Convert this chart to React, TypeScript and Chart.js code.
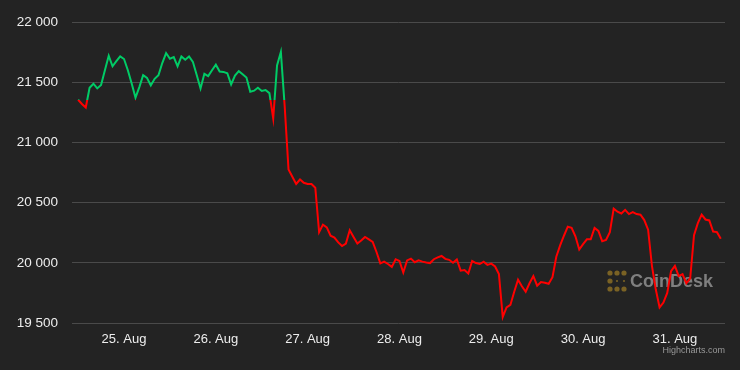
import React, { useEffect, useRef } from "react";
import { Chart, registerables } from "chart.js";

Chart.register(...registerables);

// Hourly BTC price, starting 24 Aug 12:00 (hour -12 relative to 25 Aug 00:00)
const startHour = -12;
const prices: number[] = [
  21355, 21320, 21290, 21455, 21488, 21449, 21477, 21600, 21720, 21633,
  21675, 21715, 21693, 21600, 21490, 21372, 21460, 21559, 21537, 21474,
  21529, 21559, 21660, 21743, 21696, 21710, 21633, 21715, 21688, 21715,
  21670, 21560, 21449, 21570, 21551, 21600, 21646, 21590, 21586, 21575,
  21482, 21556, 21592, 21567, 21540, 21422, 21430, 21455, 21428, 21436,
  21410, 21200, 21640, 21751, 21300, 20775, 20715, 20655, 20692, 20665,
  20655, 20655, 20624, 20254, 20317, 20295, 20225, 20210, 20170, 20139,
  20160, 20270, 20215, 20160, 20185, 20215, 20195, 20174, 20090, 19995,
  20010, 19990, 19966, 20030, 20015, 19920, 20020, 20035, 20005, 20020,
  20010, 20003, 19998, 20030, 20045, 20057, 20033, 20025, 20000, 20028,
  19935, 19940, 19911, 20015, 19998, 19990, 20010, 19983, 19993, 19970,
  19906, 19550, 19630, 19650, 19760, 19859, 19805, 19760, 19830, 19890,
  19810, 19840, 19835, 19826, 19880, 20050, 20145, 20225, 20300, 20290,
  20220, 20110, 20155, 20195, 20195, 20290, 20265, 20180, 20190, 20255,
  20450, 20425, 20410, 20440, 20405, 20421, 20405, 20400, 20355, 20275,
  19975, 19780, 19630, 19670, 19750, 19930, 19975, 19890, 19906, 19830,
  19870, 20230, 20330, 20400, 20360, 20352, 20260, 20255, 20200,
];

const dayTicks: number[] = [0, 24, 48, 72, 96, 120, 144];
const dayLabels: string[] = ["25. Aug", "26. Aug", "27. Aug", "28. Aug", "29. Aug", "30. Aug", "31. Aug"];
const yTicks: number[] = [19500, 20000, 20500, 21000, 21500, 22000];

const GREEN = "#00cc66";
const RED = "#ff0000";
const BG = "#232323";
const FONT = "'Liberation Sans', Arial, Helvetica, sans-serif";

function fmt(v: number): string {
  const th = Math.floor(v / 1000);
  const rest = String(v % 1000).padStart(3, "0");
  return `${th} ${rest}`;
}

export default function App() {
  const ref = useRef<HTMLCanvasElement | null>(null);

  useEffect(() => {
    document.body.style.margin = "0";
    document.body.style.background = BG;
    const canvas = ref.current;
    if (!canvas) return;
    const threshold = prices[0];

    const watermark = {
      id: "watermark",
      beforeDatasetsDraw(chart: any) {
        const c = chart.ctx;
        c.save();
        c.fillStyle = "#7a6224";
        const big = [
          [610, 273], [617, 273], [624, 273],
          [610, 281],
          [610, 289], [617, 289], [624, 289],
        ];
        big.forEach(([x, y]) => {
          c.beginPath();
          c.arc(x, y, 2.6, 0, Math.PI * 2);
          c.fill();
        });
        const small = [[617, 281], [624, 281]];
        small.forEach(([x, y]) => {
          c.beginPath();
          c.arc(x, y, 1.1, 0, Math.PI * 2);
          c.fill();
        });
        c.fillStyle = "rgba(150,150,150,0.8)";
        c.font = `bold 18px ${FONT}`;
        c.textAlign = "left";
        c.textBaseline = "middle";
        c.fillText("CoinDesk", 630, 282);
        c.restore();
      },
      afterDraw(chart: any) {
        const c = chart.ctx;
        c.save();
        c.fillStyle = "#999999";
        c.font = `9px ${FONT}`;
        c.textAlign = "right";
        c.textBaseline = "middle";
        c.fillText("Highcharts.com", 725, 351);
        c.restore();
      },
    };

    const chart = new Chart(canvas, {
      type: "line",
      data: {
        datasets: [
          {
            data: prices.map((p, i) => ({ x: startHour + i, y: p })),
            borderWidth: 2,
            pointRadius: 0,
            tension: 0,
            fill: false,
            borderColor: (ctx: any) => {
              const ch = ctx.chart;
              const area = ch.chartArea;
              if (!area) return GREEN;
              const yPix = ch.scales.y.getPixelForValue(threshold);
              let stop = (yPix - area.top) / (area.bottom - area.top);
              stop = Math.min(1, Math.max(0, stop));
              const g = ch.ctx.createLinearGradient(0, area.top, 0, area.bottom);
              g.addColorStop(0, GREEN);
              g.addColorStop(stop, GREEN);
              g.addColorStop(stop, RED);
              g.addColorStop(1, RED);
              return g;
            },
          },
        ],
      },
      options: {
        animation: false,
        responsive: false,
        maintainAspectRatio: false,
        events: [],
        layout: { padding: { left: 0, right: 15, top: 19, bottom: 0 } },
        plugins: {
          legend: { display: false },
          tooltip: { enabled: false },
          title: { display: false },
        },
        scales: {
          x: {
            type: "linear",
            min: -13.6,
            max: 157.1,
            grid: { display: false, drawTicks: false },
            border: { display: false },
            afterFit: (s: any) => {
              s.height = 370 - 323;
            },
            afterBuildTicks: (s: any) => {
              s.ticks = dayTicks.map((v) => ({ value: v }));
            },
            ticks: {
              autoSkip: false,
              maxRotation: 0,
              padding: 9,
              color: "#ededed",
              font: { family: FONT, size: 13 },
              callback: (v: any) => {
                const i = dayTicks.indexOf(Number(v));
                return i >= 0 ? dayLabels[i] : "";
              },
            },
          },
          y: {
            min: 19500,
            max: 22000,
            grid: { color: "#4a4a4a", lineWidth: 1, drawTicks: false },
            border: { display: false },
            afterFit: (s: any) => {
              s.width = 72;
            },
            afterBuildTicks: (s: any) => {
              s.ticks = yTicks.map((v) => ({ value: v }));
            },
            ticks: {
              padding: 14,
              color: "#ededed",
              font: { family: FONT, size: 13.5 },
              callback: (v: any) => fmt(Number(v)),
            },
          },
        },
      },
      plugins: [watermark],
    } as any);

    return () => chart.destroy();
  }, []);

  return (
    <div style={{ width: 740, height: 370, background: BG }}>
      <canvas ref={ref} width={740} height={370} style={{ display: "block" }} />
    </div>
  );
}
